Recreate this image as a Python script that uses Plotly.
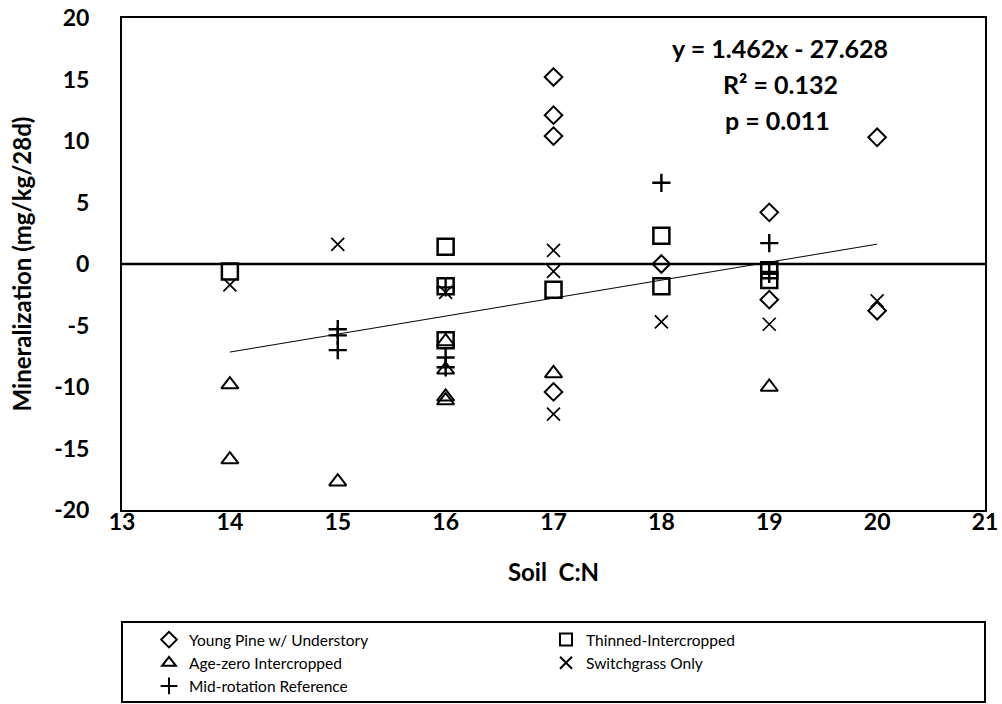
import plotly.graph_objects as go

# ---- data ----
pine_x = [17, 17, 17, 17, 18, 19, 19, 20, 20]
pine_y = [15.2, 12.1, 10.4, -10.4, 0.0, 4.2, -2.9, 10.3, -3.8]

thin_x = [14, 16, 16, 16, 17, 18, 18, 19, 19]
thin_y = [-0.6, 1.4, -1.8, -6.2, -2.1, 2.3, -1.8, -0.5, -1.3]

age_x = [14, 14, 15, 16, 16, 16, 16, 17, 19]
age_y = [-9.8, -15.9, -17.7, -6.3, -8.6, -10.8, -11.1, -8.9, -10.0]

switch_x = [14, 15, 16, 17, 17, 17, 18, 19, 20]
switch_y = [-1.7, 1.6, -2.3, 1.1, -0.6, -12.2, -4.7, -4.9, -3.0]

mid_x = [15, 15, 15, 16, 16, 16, 18, 19, 19]
mid_y = [-5.3, -5.8, -7.0, -1.9, -7.6, -8.4, 6.6, 1.7, -0.8]

trend_slope = 1.462
trend_intercept = -27.628
trend_x = [14, 20]

x_ticks = [13, 14, 15, 16, 17, 18, 19, 20, 21]
y_ticks = [-20, -15, -10, -5, 0, 5, 10, 15, 20]

FONT = "Lato"

fig = go.Figure()

series = [
    ("Young Pine w/ Understory", pine_x, pine_y, "diamond-open", 13.5, 2),
    ("Thinned-Intercropped", thin_x, thin_y, "square-open", 16, 2.5),
    ("Age-zero Intercropped", age_x, age_y, "triangle-up-open", 15, 2),
    ("Switchgrass Only", switch_x, switch_y, "x-thin-open", 13, 1.7),
    ("Mid-rotation Reference", mid_x, mid_y, "cross-thin-open", 13, 2.4),
]

# trendline
fig.add_trace(go.Scatter(
    x=trend_x, y=[trend_slope * v + trend_intercept for v in trend_x],
    mode="lines", line=dict(color="black", width=1), showlegend=False,
    hoverinfo="skip"))

for name, xs, ys, sym, sz, lw in series:
    fig.add_trace(go.Scatter(
        x=xs, y=ys, mode="markers", name=name,
        marker=dict(symbol=sym, size=sz, color="black",
                    line=dict(color="black", width=lw))))

# zero line
fig.add_shape(type="line", xref="paper", yref="y", x0=0, x1=1, y0=0, y1=0,
              line=dict(color="black", width=2.5))

# legend box
fig.add_shape(type="rect", xref="paper", yref="paper",
              x0=0, x1=1, y0=-0.390, y1=-0.2276,
              line=dict(color="black", width=2))

ann_font = dict(family=FONT, size=25, color="black")
for txt, ax, ay in [("<b>y = 1.462x - 27.628</b>", 0.762, 0.939),
                    ("<b>R² = 0.132</b>", 0.763, 0.866),
                    ("<b>p = 0.011</b>", 0.759, 0.793)]:
    fig.add_annotation(text=txt, x=ax, y=ay, xref="paper", yref="paper",
                       xanchor="center", yanchor="middle",
                       showarrow=False, font=ann_font)

fig.update_layout(
    width=1002, height=704,
    margin=dict(l=122, r=17, t=18, b=194),
    paper_bgcolor="white", plot_bgcolor="white",
    font=dict(family=FONT, color="black"),
    showlegend=True,
    legend=dict(orientation="h", xref="container", yref="container",
                x=0.1487, y=0.115, xanchor="left", yanchor="top",
                entrywidth=352, entrywidthmode="pixels",
                itemsizing="constant",
                font=dict(family=FONT, size=15.5, color="black"),
                bgcolor="rgba(0,0,0,0)", tracegroupgap=0),
    xaxis=dict(range=[13, 21], tickvals=x_ticks, ticktext=[f"<b>{v}</b>" for v in x_ticks],
               showgrid=False, zeroline=False, showline=True, mirror=True,
               linecolor="black", linewidth=2, ticks="", automargin=False,
               ticklabelstandoff=-10,
               tickfont=dict(family=FONT, size=23, color="black"),
               title=dict(text="<b>Soil  C:N</b>", font=dict(family=FONT, size=24),
                          standoff=31)),
    yaxis=dict(range=[-20, 20], tickvals=y_ticks, ticktext=[f"<b>{v}</b>" for v in y_ticks],
               showgrid=False, zeroline=False, showline=True, mirror=True,
               linecolor="black", linewidth=2, ticks="", automargin=False,
               ticklabelstandoff=26,
               tickfont=dict(family=FONT, size=23, color="black"),
               title=dict(text="<b>Mineralization (mg/kg/28d)</b>",
                          font=dict(family=FONT, size=24), standoff=16)),
)

fig.write_html("out.html")
